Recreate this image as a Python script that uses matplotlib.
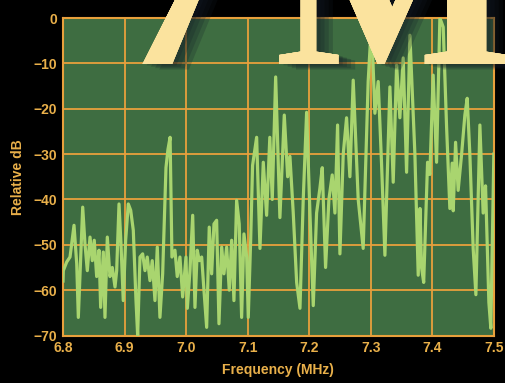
import matplotlib
matplotlib.use("Agg")
import matplotlib.pyplot as plt
import matplotlib.patheffects as pe

# spectrum (MHz, relative dB)
freq = [6.8000, 6.8005, 6.8060, 6.8114, 6.8179, 6.8223, 6.8249, 6.8287, 6.8320, 6.8357,
        6.8395, 6.8439, 6.8476, 6.8508, 6.8547, 6.8585, 6.8612, 6.8655, 6.8682, 6.8720,
        6.8763, 6.8801, 6.8845, 6.8872, 6.8910, 6.8942, 6.8979, 6.9018, 6.9061, 6.9100,
        6.9142, 6.9186, 6.9213, 6.9251, 6.9294, 6.9332, 6.9369, 6.9413, 6.9450, 6.9494,
        6.9532, 6.9575, 6.9619, 6.9673, 6.9705, 6.9740, 6.9770, 6.9819, 6.9856, 6.9900,
        6.9944, 6.9998, 7.0020, 7.0063, 7.0107, 7.0144, 7.0181, 7.0214, 7.0253, 7.0290,
        7.0334, 7.0376, 7.0415, 7.0453, 7.0496, 7.0534, 7.0578, 7.0615, 7.0659, 7.0701,
        7.0740, 7.0777, 7.0821, 7.0863, 7.0902, 7.0940, 7.0984, 7.1010, 7.1049, 7.1080,
        7.1146, 7.120, 7.1254, 7.1308, 7.136, 7.140, 7.1455, 7.1497, 7.1524, 7.1595,
        7.165, 7.1687, 7.174, 7.1796, 7.185, 7.1903, 7.1958, 7.2012, 7.2066, 7.212,
        7.2174, 7.2212, 7.2266, 7.232, 7.2374, 7.2418, 7.2461, 7.2499, 7.2553, 7.2607,
        7.2661, 7.2715, 7.2796, 7.2877, 7.2958, 7.3012, 7.3067, 7.3121, 7.3175, 7.323,
        7.3311, 7.3365, 7.342, 7.3473, 7.3527, 7.3582, 7.3636, 7.3717, 7.3771, 7.380,
        7.3825, 7.386, 7.3923, 7.396, 7.4014, 7.4069, 7.4123, 7.4177, 7.4232, 7.4285,
        7.4323, 7.434, 7.4378, 7.442, 7.4475, 7.4529, 7.4567, 7.461, 7.4664, 7.4708,
        7.4773, 7.4826, 7.4865, 7.4919, 7.4951, 7.500]
db = [-58, -55.7, -53.8, -52.7, -45.7, -54.2, -66, -52.7, -41.7, -49.8,
      -55.7, -48.3, -53.5, -49, -57, -51.2, -63.8, -51.6, -66, -48.3,
      -57, -55, -59.3, -55.7, -41, -49.8, -62.3, -49, -41, -42.4,
      -46.8, -62.3, -70, -52.7, -52, -55.7, -52.7, -57.9, -53.5, -62.3,
      -50.5, -66, -56.4, -33, -29, -26.3, -52.7, -51.2, -57, -52.7,
      -61.5, -52.7, -64, -55.7, -43.5, -63.8, -51.2, -53.5, -52.7, -60,
      -68.2, -46.1, -56.4, -45.4, -44.6, -67.4, -50.5, -56.4, -50.5, -60,
      -49, -62.3, -40.2, -45.4, -66, -47.6, -52.7, -66, -49, -32.5,
      -26.3, -50.8, -31.8, -43.5, -26.3, -40, -13, -32, -44, -21.4,
      -35, -30.5, -42.8, -58.3, -64, -40, -20.8, -43, -63.4, -43,
      -37.5, -33, -55, -40, -34.6, -43, -23.6, -52, -30, -22,
      -35, -13.7, -40, -50.8, -14, -0.9, -21, -14, -32, -52.3,
      -15.2, -36.2, -10.4, -22, -8.8, -34, -3.8, -30, -56.7, -42,
      -55, -58.3, -31.8, -34.5, -12.6, -31.8, 0, -2, -24, -42,
      -32, -42.5, -27.4, -38, -30.2, -21.4, -17.7, -30, -50.8, -61,
      -23.6, -43, -37, -62.7, -68.4, -30]

xticks = [6.8, 6.9, 7.0, 7.1, 7.2, 7.3, 7.4, 7.5]
yticks = [0, -10, -20, -30, -40, -50, -60, -70]

orange = "#e8a03c"
labelcol = "#e9b04a"

fig = plt.figure(figsize=(5.06, 3.83), dpi=100, facecolor="black")
ax = fig.add_axes([0.1245, 0.124, 0.8515, 0.829])
ax.set_facecolor("#3e6d41")

ax.plot(freq, db, color="#a9d56f", lw=2.3, solid_joinstyle="round", zorder=3)

ax.set_xlim(6.8, 7.5)
ax.set_ylim(-70, 0)
ax.set_xticks(xticks)
ax.set_yticks(yticks)
ax.set_xticklabels(["%.1f" % t for t in xticks])
ax.grid(True, color=orange, lw=1.3, zorder=1)
ax.set_axisbelow(True)
for s in ax.spines.values():
    s.set_color(orange)
    s.set_linewidth(1.5)
ax.tick_params(length=0, pad=4, labelcolor=labelcol, labelsize=10)
for lab in ax.get_xticklabels() + ax.get_yticklabels():
    lab.set_fontfamily("Liberation Sans")
    lab.set_fontweight("bold")

ax.set_xlabel("Frequency (MHz)", color=labelcol, fontsize=10, fontweight="bold",
              fontfamily="Liberation Sans", labelpad=6)
ax.set_ylabel("Relative dB", color=labelcol, fontsize=10, fontweight="bold",
              fontfamily="Liberation Sans", labelpad=6)

# big title "7 MHz", mostly cut off by the top edge; stacked shadows fake a blur
shadow = [pe.withSimplePatchShadow(offset=(o, -o / 3), shadow_rgbFace="#141c26", alpha=0.22)
          for o in (12, 9, 6, 3)] + [pe.Normal()]
for s, xpx in [("7", 116), ("MHz", 275)]:
    fig.text(xpx / 506, 1 - 64 / 383, s, fontsize=183, fontweight="bold",
             fontfamily="Liberation Serif", color="#fbe39e", va="baseline", ha="left",
             path_effects=shadow)

fig.savefig("out.png", dpi=100, facecolor="black")
